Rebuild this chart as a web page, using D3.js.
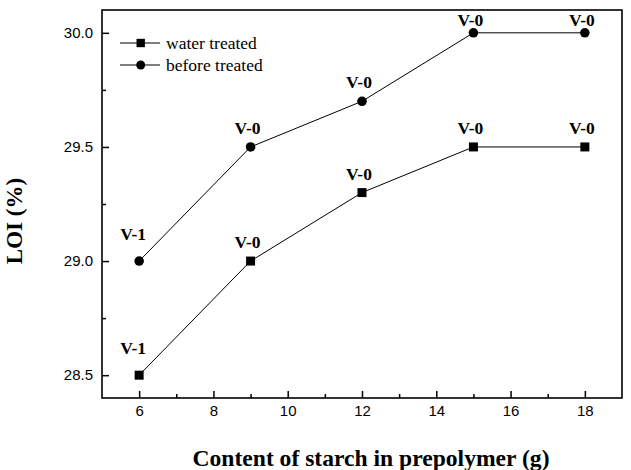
<!DOCTYPE html>
<html>
<head>
<meta charset="utf-8">
<script src="https://cdn.jsdelivr.net/npm/d3@7"></script>
<style>
  body { margin: 0; background: #fff; }
  svg { display: block; }
  .tick text { font-family: "Liberation Sans", Arial, sans-serif; font-size: 15px; fill: #000; }
  .tick line { stroke: #000; stroke-width: 1.5; }
  .serif { font-family: "Liberation Serif", "Times New Roman", serif; fill: #000; }
</style>
</head>
<body>
<svg id="chart" width="631" height="470"></svg>
<script>
// starch content (g) and LOI values
const starch = [6, 9, 12, 15, 18];
const waterLOI = [28.5, 29.0, 29.3, 29.5, 29.5];
const beforeLOI = [29.0, 29.5, 29.7, 30.0, 30.0];
const waterRating = ["V-1", "V-0", "V-0", "V-0", "V-0"];
const beforeRating = ["V-1", "V-0", "V-0", "V-0", "V-0"];

const xMajor = [6, 8, 10, 12, 14, 16, 18];
const xMinor = [7, 9, 11, 13, 15, 17];
const yMajor = [28.5, 29.0, 29.5, 30.0];
const yMinor = [28.75, 29.25, 29.75];

var svg = d3.select("#chart"),
  margin = {top: 10, right: 9, bottom: 72, left: 102},
  width = +svg.attr("width") - margin.left - margin.right,
  height = +svg.attr("height") - margin.top - margin.bottom,
  g = svg.append("g").attr("transform", "translate(" + margin.left + "," + margin.top + ")");

var x = d3.scaleLinear().domain([5, 19]).range([0, width]);
var y = d3.scaleLinear().domain([28.4, 30.1]).range([height, 0]);

// axes, ticks pointing inward
g.append("g")
  .attr("transform", "translate(0," + height + ")")
  .call(d3.axisBottom(x).tickValues(xMajor).tickSize(-7).tickPadding(7).tickFormat(d3.format("d")))
  .call(a => a.select(".domain").remove());

g.append("g")
  .attr("transform", "translate(0," + height + ")")
  .call(d3.axisBottom(x).tickValues(xMinor).tickSize(-4).tickFormat(""))
  .call(a => a.select(".domain").remove());

g.append("g")
  .call(d3.axisLeft(y).tickValues(yMajor).tickSize(-7).tickPadding(9).tickFormat(d3.format(".1f")))
  .call(a => a.select(".domain").remove());

g.append("g")
  .call(d3.axisLeft(y).tickValues(yMinor).tickSize(-4).tickFormat(""))
  .call(a => a.select(".domain").remove());

// frame
g.append("rect")
  .attr("width", width)
  .attr("height", height)
  .attr("fill", "none")
  .attr("stroke", "#000")
  .attr("stroke-width", 1.6);

var line = d3.line()
  .x(function(d, i) { return x(starch[i]); })
  .y(function(d) { return y(d); });

function drawSeries(vals, ratings, shape) {
  g.append("path")
    .datum(vals)
    .attr("d", line)
    .attr("fill", "none")
    .attr("stroke", "#000")
    .attr("stroke-width", 1);

  var sym = d3.symbol().type(shape === "square" ? d3.symbolSquare : d3.symbolCircle)
    .size(shape === "square" ? 81 : 72);

  g.selectAll(".pt-" + shape)
    .data(vals)
    .enter().append("path")
    .attr("class", "pt-" + shape)
    .attr("transform", function(d, i) { return "translate(" + x(starch[i]) + "," + y(d) + ")"; })
    .attr("d", sym)
    .attr("fill", "#000");

  g.selectAll(".lab-" + shape)
    .data(vals)
    .enter().append("text")
    .attr("class", "serif lab-" + shape)
    .attr("x", function(d, i) { return x(starch[i]) - (i === 0 ? 6 : 3); })
    .attr("y", function(d, i) {
      var yy = y(d) - (i === 0 ? 21 : 13);
      return Math.max(yy, 16);
    })
    .attr("text-anchor", "middle")
    .style("font-size", "17.5px")
    .style("font-weight", "bold")
    .text(function(d, i) { return ratings[i]; });
}

drawSeries(waterLOI, waterRating, "square");
drawSeries(beforeLOI, beforeRating, "circle");

// legend
var legend = [
  {name: "water treated", shape: "square"},
  {name: "before treated", shape: "circle"}
];
legend.forEach(function(l, i) {
  var ly = 33 + i * 22;
  g.append("line")
    .attr("x1", 18).attr("x2", 58)
    .attr("y1", ly).attr("y2", ly)
    .attr("stroke", "#000").attr("stroke-width", 1);
  g.append("path")
    .attr("transform", "translate(38.7," + ly + ")")
    .attr("d", d3.symbol().type(l.shape === "square" ? d3.symbolSquare : d3.symbolCircle).size(l.shape === "square" ? 70 : 64))
    .attr("fill", "#000");
  g.append("text")
    .attr("class", "serif")
    .attr("x", 64)
    .attr("y", ly + 5.5)
    .style("font-size", "17.5px")
    .text(l.name);
});

// axis titles
svg.append("text")
  .attr("class", "serif")
  .attr("x", 371)
  .attr("y", 466)
  .attr("text-anchor", "middle")
  .style("font-size", "23px")
  .style("font-weight", "bold")
  .attr("textLength", 357)
  .attr("lengthAdjust", "spacingAndGlyphs")
  .text("Content of starch in prepolymer (g)");

svg.append("text")
  .attr("class", "serif")
  .attr("transform", "translate(22,221) rotate(-90)")
  .attr("text-anchor", "middle")
  .style("font-size", "23px")
  .style("font-weight", "bold")
  .text("LOI (%)");
</script>
</body>
</html>
